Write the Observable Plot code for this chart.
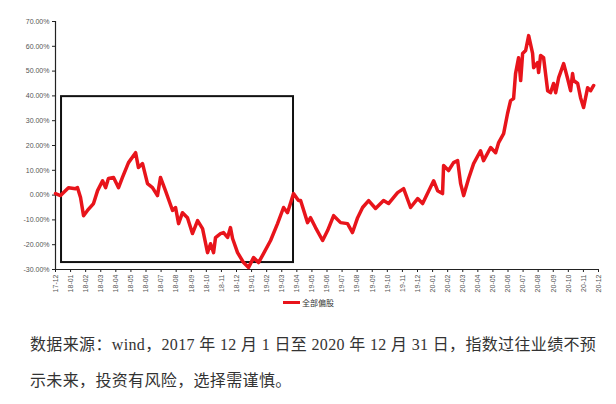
<!DOCTYPE html>
<html>
<head>
<meta charset="utf-8">
<script src="https://cdn.jsdelivr.net/npm/d3@7"></script>
<script src="https://cdn.jsdelivr.net/npm/@observablehq/plot@0.6"></script>
<style>
  html, body { margin: 0; padding: 0; background: #fff; }
  #wrap { position: relative; width: 616px; height: 404px; }
  #legend { position: absolute; left: 283px; top: 297px; font: 8px "Noto Sans CJK SC", sans-serif; color: #333; display: flex; align-items: center; }
  #legend .sw { width: 17px; height: 3px; background: #e8141b; margin-right: 2px; }
  #caption { position: absolute; left: 30px; top: 327px; font-size: 16px; line-height: 36px; color: #333; letter-spacing: 0.35px;
    font-family: "Liberation Serif", "Noto Sans CJK SC", serif; white-space: nowrap; }
</style>
</head>
<body>
<div id="wrap">
  <div id="chart"></div>
  <div id="legend"><span class="sw"></span><span>全部偏股</span></div>
  <div id="caption">数据来源：wind，2017 年 12 月 1 日至 2020 年 12 月 31 日，指数过往业绩不预<br>示未来，投资有风险，选择需谨慎。</div>
</div>
<script>
// month index since 2017-12 (0 = 17-12, 36 = 20-12)
const monthIdx = [0,0.33,0.86,1.33,1.46,1.66,1.86,2.12,2.52,2.79,3.12,3.32,3.51,3.85,4.18,4.44,4.84,5.31,5.50,5.77,6.10,6.43,6.76,6.96,7.29,7.76,7.96,8.16,8.42,8.75,9.08,9.42,9.75,10.08,10.28,10.48,10.61,10.94,11.14,11.41,11.60,11.74,12.07,12.47,12.80,13.13,13.46,13.79,14.26,14.72,15.12,15.38,15.78,16.11,16.25,16.71,16.91,17.24,17.71,18.04,18.44,18.90,19.36,19.69,20.03,20.36,20.76,21.22,21.75,22.08,22.68,23.08,23.54,24.01,24.34,25.07,25.33,25.66,25.73,26.06,26.39,26.66,26.86,27.06,27.39,27.72,28.18,28.38,28.85,29.18,29.38,29.71,29.97,30.17,30.37,30.50,30.70,30.84,30.97,31.17,31.37,31.63,31.70,31.96,32.03,32.16,32.36,32.63,32.82,33.02,33.16,33.36,33.69,33.95,34.15,34.28,34.35,34.62,34.81,35.01,35.28,35.48,35.68,35.94];
// cumulative return, %
const returnPct = [0.6,-0.2,3.0,2.6,3.0,-1.0,-8.3,-6.2,-3.4,1.8,5.8,3.0,6.7,7.1,3.0,7.1,13.1,17.1,11.1,12.7,4.6,3.0,-0.2,7.1,1.8,-6.2,-5.0,-11.5,-7.1,-9.1,-15.5,-10.3,-13.5,-23.2,-19.6,-23.2,-17.1,-15.5,-15.1,-17.1,-13.1,-17.5,-23.2,-27.2,-29.2,-25.2,-27.2,-23.6,-18.3,-11.5,-5.0,-7.1,0.6,-2.2,-2.2,-11.1,-9.1,-13.1,-18.3,-14.3,-8.3,-11.1,-11.5,-15.1,-9.1,-5.0,-2.2,-5.4,-2.2,-3.4,1.0,2.6,-5.0,-1.4,-3.4,5.8,1.8,0.6,11.9,9.9,13.1,13.9,4.6,-0.2,6.7,12.7,17.9,13.9,19.2,17.1,21.2,24.8,32.9,38.1,38.9,49.0,55.4,46.2,57.1,58.3,64.3,57.1,51.4,53.4,49.4,56.3,55.4,42.1,41.3,45.0,41.3,47.4,53.0,47.0,42.1,49.0,46.2,45.0,39.3,35.3,43.3,42.1,44.2];
const seriesName = "全部偏股";
const xTickLabels = ["17-12","18-01","18-02","18-03","18-04","18-05","18-06","18-07","18-08","18-09","18-10","18-11","18-12","19-01","19-02","19-03","19-04","19-05","19-06","19-07","19-08","19-09","19-10","19-11","19-12","20-01","20-02","20-03","20-04","20-05","20-06","20-07","20-08","20-09","20-10","20-11","20-12"];
const yTicks = [-30,-20,-10,0,10,20,30,40,50,60,70];
const yTickLabels = ["-30.00%","-20.00%","-10.00%","0.00%","10.00%","20.00%","30.00%","40.00%","50.00%","60.00%","70.00%"];
// highlighted box (month index / %)
const boxX = [0.4, 15.78];
const boxY = [-27.2, 39.7];

const data = monthIdx.map((m, i) => ({m, v: returnPct[i]}));
const box = [{x1: boxX[0], x2: boxX[1], y1: boxY[0], y2: boxY[1]}];

const chart = Plot.plot({
  width: 616,
  height: 300,
  marginTop: 21,
  marginBottom: 31,
  marginLeft: 55,
  marginRight: 18,
  style: {fontFamily: "'Liberation Sans', sans-serif", fontSize: "7px", color: "#555", background: "#fff"},
  x: {domain: [0, 36]},
  y: {domain: [-30, 70]},
  marks: [
    Plot.axisX({ticks: xTickLabels.map((_, i) => i), tickFormat: i => xTickLabels[i], tickRotate: -90, tickSize: 3, tickPadding: 2, label: null, stroke: "#222"}),
    Plot.axisY({ticks: yTicks, tickFormat: d => yTickLabels[yTicks.indexOf(d)], tickSize: 3, tickPadding: 3, label: null, stroke: "#222"}),
    Plot.ruleY([-30], {stroke: "#222", strokeWidth: 1.2}),
    Plot.ruleX([0], {stroke: "#222", strokeWidth: 1.2}),
    Plot.rect(box, {x1: "x1", x2: "x2", y1: "y1", y2: "y2", fill: "none", stroke: "#111", strokeWidth: 2}),
    Plot.line(data, {x: "m", y: "v", stroke: "#e8141b", strokeWidth: 3.5, strokeLinejoin: "round"})
  ]
});
document.getElementById("chart").appendChild(chart);
</script>
</body>
</html>
